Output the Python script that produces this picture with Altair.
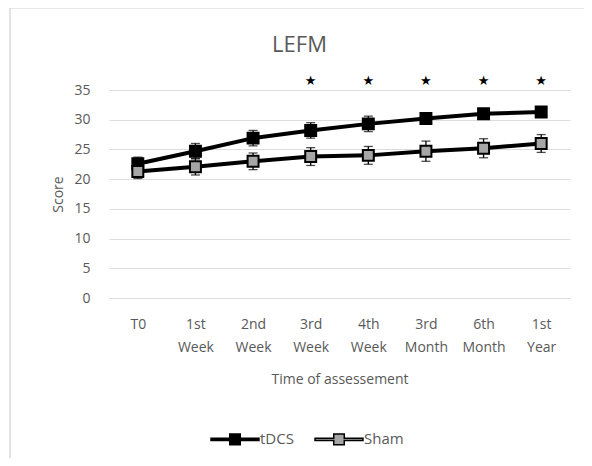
import altair as alt
import pandas as pd

categories = ["T0", "1st Week", "2nd Week", "3rd Week", "4th Week", "3rd Month", "6th Month", "1st Year"]
tdcs_mean = [22.6, 24.7, 26.9, 28.2, 29.3, 30.2, 31.0, 31.3]
tdcs_err = [1.1, 1.3, 1.3, 1.3, 1.3, 0.6, 0.6, 0.6]
sham_mean = [21.3, 22.1, 23.0, 23.8, 24.0, 24.7, 25.2, 26.0]
sham_err = [1.2, 1.4, 1.4, 1.5, 1.5, 1.7, 1.6, 1.5]
significant = [False, False, False, True, True, True, True, True]
star_level = 36.5
series_names = ["tDCS", "Sham"]
y_ticks = [0, 5, 10, 15, 20, 25, 30, 35]

rows = []
for name, means, errs in [("tDCS", tdcs_mean, tdcs_err), ("Sham", sham_mean, sham_err)]:
    for c, m, e in zip(categories, means, errs):
        rows.append({"time": c, "series": name, "score": m, "lo": m - e, "hi": m + e})
df = pd.DataFrame(rows)
stars = pd.DataFrame({"time": [c for c, s in zip(categories, significant) if s],
                      "y": [star_level for s in significant if s]})
frame_df = pd.DataFrame({"k": [0]})

FONT = "Open Sans"
GRAY = "#595959"

x_scale = alt.Scale(type="point", padding=0.5)
x_axis = alt.Axis(title="Time of assessement", labelAngle=0,
                  labelExpr="split(datum.label, ' ')", labelBaseline="top",
                  labelLineHeight=23, labelPadding=19, ticks=False, domain=False,
                  titlePadding=18, labelOverlap=False, grid=False)
y_scale = alt.Scale(domain=[0, 35], nice=False)
y_axis = alt.Axis(title="Score", values=y_ticks, labelOverlap=False,
                  ticks=False, domain=False, labelPadding=19, titlePadding=8,
                  grid=True, gridColor="#dcdcdc", gridWidth=1)


def X():
    return alt.X("time:N", sort=categories, scale=x_scale, axis=x_axis)


def Y(field):
    return alt.Y(field, scale=y_scale, axis=y_axis, title="Score")


base = alt.Chart(df)

frame = alt.Chart(frame_df).mark_rect(fill="transparent", stroke="#d0d0d0", strokeWidth=1.2).encode(
    x=alt.value(-99), x2=alt.value(481), y=alt.value(-82), y2=alt.value(380))

lines = base.mark_line(color="black", strokeWidth=4).encode(
    x=X(), y=Y("score:Q"), detail="series:N")

rules = base.mark_rule(color="black", strokeWidth=1.3).encode(
    x=X(), y=Y("lo:Q"), y2="hi:Q")
caps_lo = base.mark_tick(color="black", thickness=1.3, size=9, orient="horizontal").encode(
    x=X(), y=Y("lo:Q"))
caps_hi = base.mark_tick(color="black", thickness=1.3, size=9, orient="horizontal").encode(
    x=X(), y=Y("hi:Q"))

points = base.mark_point(shape="square", filled=True, size=120, stroke="black",
                         strokeWidth=2, opacity=1).encode(
    x=X(),
    y=Y("score:Q"),
    fill=alt.Fill("series:N", sort=series_names,
                  scale=alt.Scale(domain=series_names, range=["black", "#a6a6a6"]),
                  legend=alt.Legend(
                      title=None, orient="none", direction="horizontal",
                      legendX=101, legendY=324,
                      symbolType="M-1,-0.05 L-0.22,-0.05 L-0.22,-0.22 L0.22,-0.22 L0.22,-0.05 L1,-0.05 L1,0.05 L0.22,0.05 L0.22,0.22 L-0.22,0.22 L-0.22,0.05 L-1,0.05 Z",
                      symbolSize=2300, symbolStrokeColor="black", symbolStrokeWidth=1.5,
                      symbolOpacity=1,
                      labelFont=FONT, labelFontSize=15, labelColor=GRAY,
                      labelOffset=0, columnPadding=18)),
)

star_marks = alt.Chart(stars).mark_text(text="★", fontSize=13, color="black",
                                         font="DejaVu Sans").encode(
    x=X(), y=Y("y:Q"))

chart = alt.layer(frame, lines, rules, caps_lo, caps_hi, points, star_marks).properties(
    width=461, height=208,
    title=alt.TitleParams("LEFM", fontSize=22, font=FONT, color=GRAY, fontWeight="normal",
                          anchor="middle", dx=-40, offset=-50),
    autosize=alt.AutoSizeParams(type="none"),
    padding={"left": 101, "top": 82, "right": 14, "bottom": 160},
).configure_view(stroke=None).configure_axis(
    labelFont=FONT, labelFontSize=14, labelColor=GRAY,
    titleFont=FONT, titleFontSize=14, titleColor=GRAY, titleFontWeight="normal",
)

chart.save("out.html", embed_options={"renderer": "svg", "actions": False})
